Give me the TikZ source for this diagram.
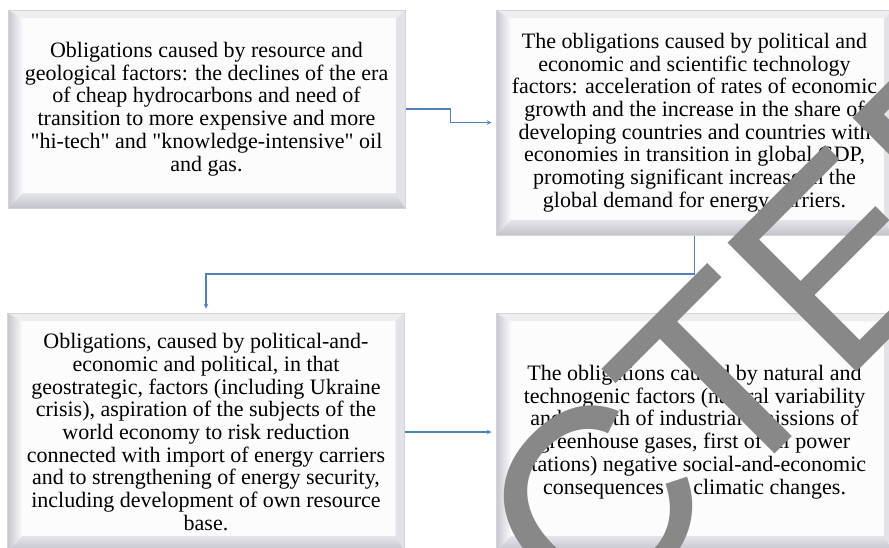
\documentclass[tikz,border=0pt]{standalone}
\usepackage{fontspec}
\newfontfamily\boxfont{Liberation Serif}
\newfontfamily\wmfont{Liberation Sans}
\usetikzlibrary{calc}

\definecolor{linkblue}{HTML}{4F81BD}
\definecolor{frame}{HTML}{D4D4D8}
\definecolor{face}{HTML}{FCFCFD}
\definecolor{bevleft}{HTML}{C6C6D0}
\definecolor{bevtop}{HTML}{EEEEF2}
\definecolor{bevright}{HTML}{E2E2E8}
\definecolor{bevbottom}{HTML}{C2C2CB}
\definecolor{wmgray}{HTML}{888888}

\tikzset{
  obligation/.style={draw=frame, line width=1pt, fill=face, align=center, inner sep=0pt,
    minimum width=397pt, font=\boxfont\fontsize{22}{22.7}\selectfont,
    path picture={
      \path (path picture bounding box.south west) coordinate (sw)
            (path picture bounding box.north west) coordinate (nw)
            (path picture bounding box.north east) coordinate (ne)
            (path picture bounding box.south east) coordinate (se);
      \path ([shift={(15pt,15pt)}]sw) coordinate (swi)
            ([shift={(15pt,-8pt)}]nw) coordinate (nwi)
            ([shift={(-9pt,-8pt)}]ne) coordinate (nei)
            ([shift={(-9pt,15pt)}]se) coordinate (sei);
      \shade[left color=bevleft, right color=face] (sw) -- (nw) -- (nwi) -- (swi) -- cycle; %links
      \fill[bevtop] (nw) -- (ne) -- (nei) -- (nwi) -- cycle;                                %oben
      \fill[bevright] (ne) -- (se) -- (sei) -- (nei) -- cycle;                              %rechts
      \shade[top color=face!60!bevbottom, bottom color=bevbottom] (se) -- (sw) -- (swi) -- (sei) -- cycle; %unten
    }},
  link/.style={draw=linkblue, line width=1.1pt, ->, >=stealth, shorten >=4pt},
  wmark/.style={font=\wmfont\fontsize{265}{265}\selectfont, text=wmgray, inner sep=0pt}
}

\begin{document}
\begin{tikzpicture}[x=1pt, y=-1pt]
  \useasboundingbox (0,0) rectangle (889,547);
  \clip (0,0) rectangle (889,547);
  \fill [white] (0,0) rectangle (889,547);                 %Hintergrund

  \node [obligation, minimum height=198pt] (b1) at (206.5,109) {Obligations caused by resource and\\
    geological factors: the declines of the era\\ of cheap hydrocarbons and need of\\
    transition to more expensive and more\\ "hi-tech" and "knowledge-intensive" oil\\ and gas.};
  \node [obligation, minimum height=225pt] (b2) at (694.5,122.5) {The obligations caused by political and\\
    economic and scientific technology\\ factors: acceleration of rates of economic\\
    growth and the increase in the share of\\ developing countries and countries with\\
    economies in transition in global GDP,\\ promoting significant increase in the\\
    global demand for energy carriers.};
  \node [obligation, minimum height=238pt] (b3) at (206,432) {Obligations, caused by political-and-\\
    economic and political, in that\\ geostrategic, factors (including Ukraine\\
    crisis), aspiration of the subjects of the\\ world economy to risk reduction\\
    connected with import of energy carriers\\ and to strengthening of energy security,\\
    including development of own resource\\ base.};
  \node [obligation, minimum height=238pt] (b4) at (694.5,432) {The obligations caused by natural and\\
    technogenic factors (natural variability\\ and growth of industrial emissions of\\
    greenhouse gases, first of all power\\ stations) negative social-and-economic\\
    consequences of climatic changes.};

  \coordinate (m12) at ($(b1.east)!.5!(b2.west)$);
  \coordinate (m23) at ($(b2.south)!.5!(b3.north)$);
  \draw [link] (b1.east) -| (m12) |- (b2.west);           %1 nach 2
  \draw [link] (b2.south) |- (m23) -| (b3.north);         %2 nach 3
  \draw [link] (b3.east) -- (b4.west);                    %3 nach 4

  \node [wmark, rotate=45, anchor=base] (wm) at (529,700) {RETRACTED};
\end{tikzpicture}
\end{document}
